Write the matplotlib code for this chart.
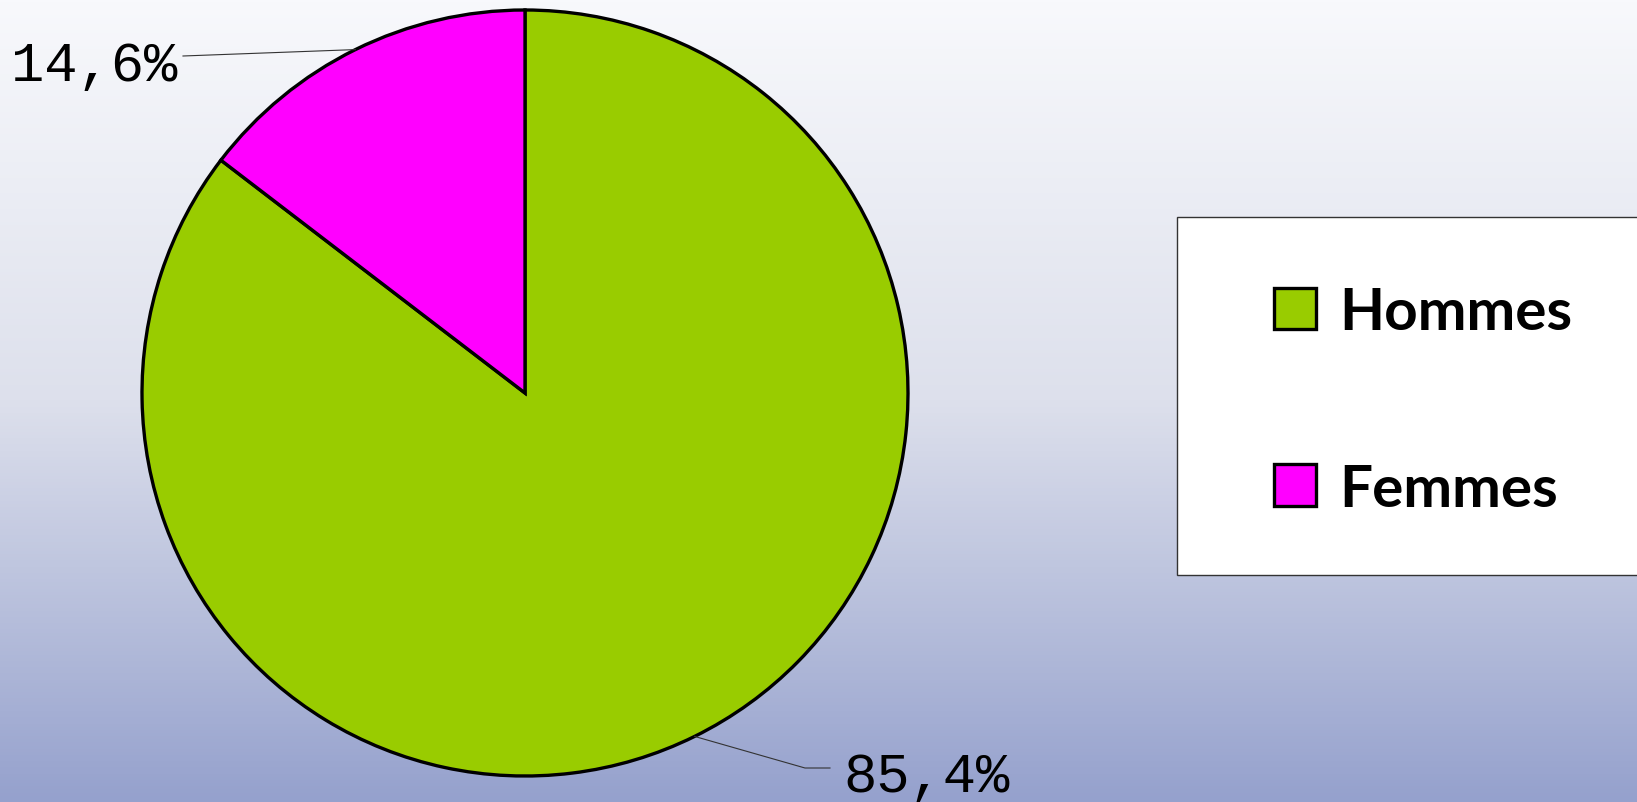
import matplotlib.pyplot as plt
import numpy as np
from matplotlib.colors import LinearSegmentedColormap
from matplotlib.patches import Rectangle

labels = ["Hommes", "Femmes"]
values = [85.4, 14.6]
colors = ["#99cc00", "#ff00ff"]
pct_text = ["85,4%", "14,6%"]

W, H = 1637, 803
fig = plt.figure(figsize=(W / 100, H / 100), dpi=100)

# background gradient
bg = fig.add_axes([0, 0, 1, 1], zorder=0)
cmap = LinearSegmentedColormap.from_list("bg", ["#f8f9fc", "#dde0ec", "#95a1cd"])
grad = np.linspace(0, 1, 256).reshape(-1, 1)
bg.imshow(grad, cmap=cmap, aspect="auto", extent=[0, 1, 0, 1])
bg.axis("off")

# pie axes: centre (525, 394) px, radius 383 px
cx, cy, r = 525, 394, 383
ax = fig.add_axes([(cx - r) / W, (H - cy - r) / H, 2 * r / W, 2 * r / H], zorder=2)
ax.patch.set_alpha(0)
wedges, _ = ax.pie(values, colors=colors, startangle=90, counterclock=False,
                   radius=1, wedgeprops=dict(edgecolor="black", linewidth=2.4))
ax.set_xlim(-1, 1)
ax.set_ylim(-1, 1)
ax.set_aspect("equal")
ax.axis("off")


def px(x, y):
    return (x - cx) / r, (cy - y) / r


mono = "Liberation Mono"

# label for Hommes
w = wedges[0]
a = np.deg2rad((w.theta1 + w.theta2) / 2)
p0 = (np.cos(a), np.sin(a))
ex, ey = px(805, 769)
fx, fy = px(830, 769)
ax.plot([p0[0], ex, fx], [p0[1], ey, fy], color="#333333", lw=0.8, clip_on=False)
tx, ty = px(843, 792)
ax.text(tx, ty, pct_text[0], ha="left", va="baseline", fontsize=40,
        family=mono, color="black")

# label for Femmes
w = wedges[1]
a = np.deg2rad((w.theta1 + w.theta2) / 2)
p0 = (np.cos(a), np.sin(a))
ex, ey = px(183, 57)
ax.plot([p0[0], ex], [p0[1], ey], color="#333333", lw=0.8, clip_on=False)
tx, ty = px(177, 81)
ax.text(tx, ty, pct_text[1], ha="right", va="baseline", fontsize=40,
        family=mono, color="black")

# legend box
box = Rectangle((1177 / W, 1 - 576 / H), 1.0, (576 - 218) / H,
                transform=fig.transFigure, facecolor="white",
                edgecolor="#333333", linewidth=1, zorder=3)
fig.patches.append(box)

leg = fig.legend(wedges, labels, loc="upper left",
                 bbox_to_anchor=(1274 / W, 1 - 287 / H),
                 frameon=False, borderpad=0, borderaxespad=0,
                 handlelength=0.72, handleheight=0.72, handletextpad=0.4,
                 labelspacing=2.12,
                 prop=dict(family="Lato", weight="bold", size=42))
leg.set_zorder(4)

fig.savefig("out.png", dpi=100)
